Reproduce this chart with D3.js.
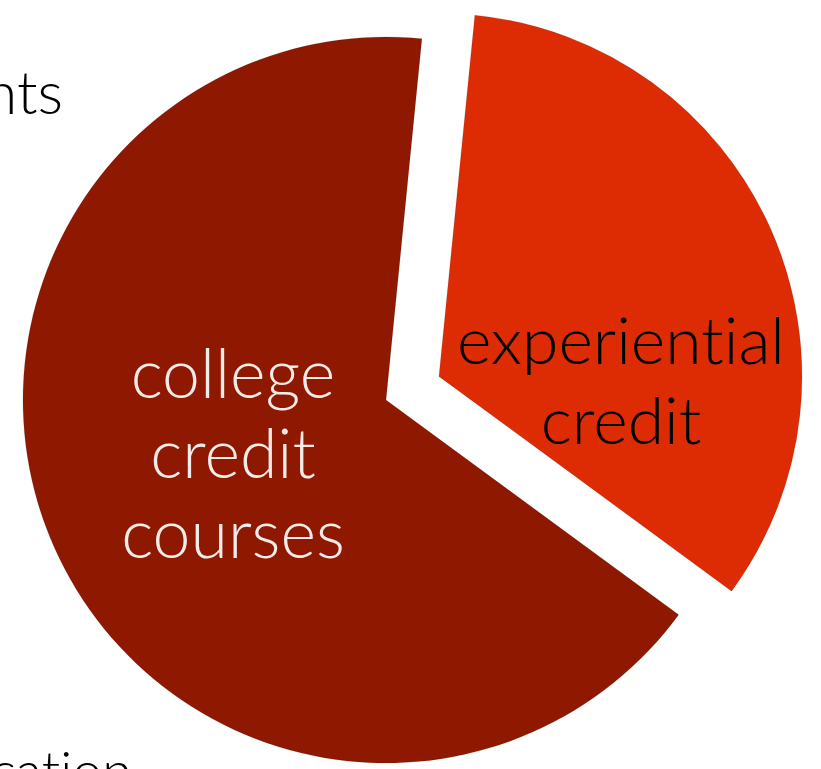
<!DOCTYPE html>
<html>
<head>
<meta charset="utf-8">
<script src="https://cdn.jsdelivr.net/npm/d3@7"></script>
<style>
  html, body { margin: 0; padding: 0; background: #fff; }
  svg { display: block; }
  text { font-family: "Lato", "Open Sans", sans-serif; font-weight: 300; font-variant-ligatures: none; }
</style>
</head>
<body>
<svg id="chart" width="821" height="769"></svg>
<script>
// Share of credit by source
const categories = ["experiential credit", "college credit courses"];
const shares = [33.5, 66.5];
const labelLines = [["experiential", "credit"], ["college", "credit", "courses"]];
const sliceColors = ["#dd2c04", "#8e1800"];
const labelColors = ["#000000", "#f3ebe8"];

const width = 821, height = 769;
const cx = 386, cy = 400, radius = 363;
const explode = [58, 0];
const startAngle = 0.099;

const svg = d3.select("#chart");
svg.append("rect").attr("width", width).attr("height", height).attr("fill", "#fff");

const pie = d3.pie().sort(null).value(d => d.value)
  .startAngle(startAngle).endAngle(startAngle + 2 * Math.PI);
const arc = d3.arc().innerRadius(0).outerRadius(radius);

const data = categories.map((c, i) => ({ name: c, value: shares[i], i }));
const arcs = pie(data);

const g = svg.append("g").attr("transform", `translate(${cx},${cy})`);

const slices = g.selectAll("g.slice").data(arcs).join("g")
  .attr("class", "slice")
  .attr("transform", d => {
    const mid = (d.startAngle + d.endAngle) / 2;
    const off = explode[d.data.i];
    return `translate(${Math.sin(mid) * off},${-Math.cos(mid) * off})`;
  });

slices.append("path")
  .attr("d", arc)
  .attr("fill", d => sliceColors[d.data.i])
  .attr("stroke", "rgba(0,0,0,0.12)")
  .attr("stroke-width", 1);

// label anchors relative to each slice's own centre
const labelOffsets = [[182, -12], [-153, -2]];
const lineGap = 80;
const fontSizes = [66, 68];

slices.each(function(d) {
  const i = d.data.i;
  const t = d3.select(this).append("text")
    .attr("text-anchor", "middle")
    .attr("fill", labelColors[i])
    .attr("font-size", fontSizes[i]);
  labelLines[i].forEach((line, k) => {
    t.append("tspan")
      .attr("x", labelOffsets[i][0])
      .attr("y", labelOffsets[i][1] + k * lineGap)
      .text(line);
  });
});

// surrounding slide text, cut off by the frame
svg.append("text").attr("x", 63).attr("y", 114)
  .attr("text-anchor", "end").attr("font-size", 60).attr("fill", "#000")
  .text("nts");
svg.append("text").attr("x", 132).attr("y", 790)
  .attr("text-anchor", "end").attr("font-size", 54).attr("fill", "#000")
  .text("education");
</script>
</body>
</html>
